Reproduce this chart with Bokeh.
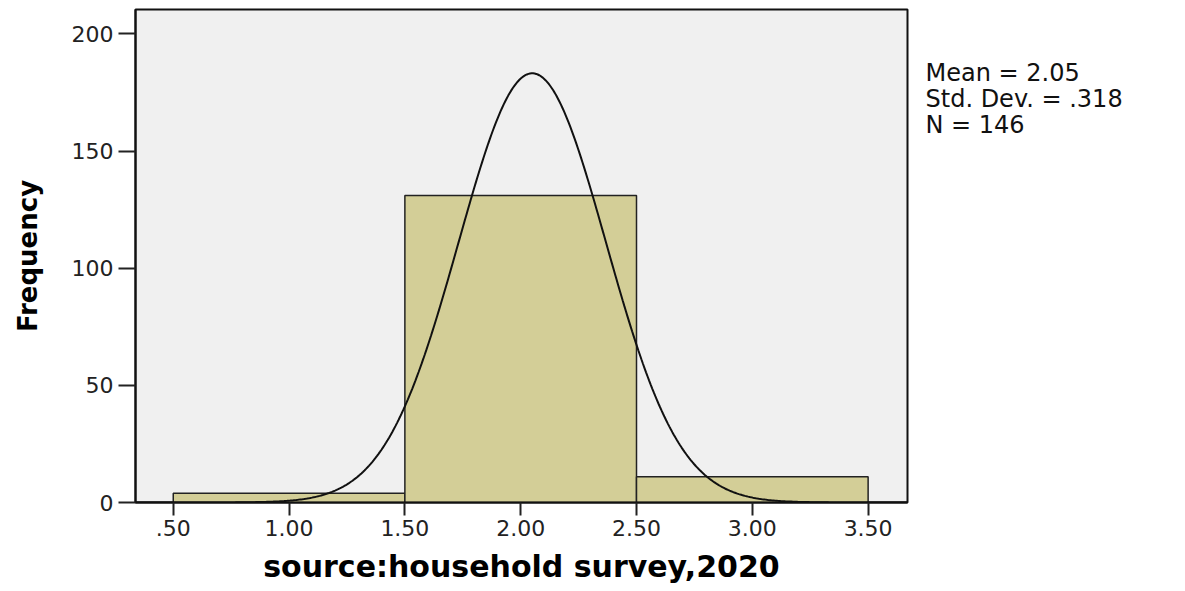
import numpy as np
from bokeh.plotting import figure
from bokeh.layouts import row
from bokeh.models import Range1d, FixedTicker
from bokeh.core.properties import value
from bokeh.embed import file_html
from bokeh.resources import INLINE

# ---- data ----
bin_edges = [0.5, 1.5, 2.5, 3.5]
frequencies = [4, 131, 11]
x_ticks = [0.5, 1.0, 1.5, 2.0, 2.5, 3.0, 3.5]
x_tick_labels = [".50", "1.00", "1.50", "2.00", "2.50", "3.00", "3.50"]
y_ticks = [0, 50, 100, 150, 200]
mean = 2.05
std_dev = 0.318
n_obs = 146
stats_lines = ["Mean = 2.05", "Std. Dev. = .318", "N = 146"]
x_title = "source:household survey,2020"
y_title = "Frequency"

X_START, X_END = 0.337, 3.67
Y_START, Y_END = 0, 210.4

p = figure(width=917, height=591,
           x_range=Range1d(X_START, X_END), y_range=Range1d(Y_START, Y_END),
           output_backend="svg", toolbar_location=None,
           min_border_left=135, min_border_right=10,
           min_border_top=9, min_border_bottom=89)

p.background_fill_color = "#F0F0F0"
p.border_fill_color = "white"
p.outline_line_color = "#111111"
p.outline_line_width = 2
p.xgrid.visible = False
p.ygrid.visible = False

# histogram bars
lefts = bin_edges[:-1]
rights = bin_edges[1:]
p.quad(left=lefts, right=rights, bottom=[0] * len(frequencies), top=frequencies,
       fill_color="#D3CE97", line_color="#222222", line_width=1.5)

# fitted normal curve from the stated statistics
bin_width = bin_edges[1] - bin_edges[0]
xs = np.linspace(X_START, X_END, 500)
ys = n_obs * bin_width * np.exp(-0.5 * ((xs - mean) / std_dev) ** 2) / (std_dev * np.sqrt(2 * np.pi))
p.line(xs, ys, line_color="#111111", line_width=2)

# axes
for ax in (p.xaxis[0], p.yaxis[0]):
    ax.axis_line_color = "#111111"
    ax.axis_line_width = 2
    ax.major_tick_line_color = "#222222"
    ax.major_tick_line_width = 2
    ax.major_tick_in = 0
    ax.minor_tick_line_color = None
    ax.major_label_text_font = "DejaVu Sans"
    ax.major_label_text_font_size = "22px"
    ax.major_label_text_color = "#222222"
    ax.axis_label_text_font = "DejaVu Sans"
    ax.axis_label_text_font_style = "bold"
    ax.axis_label_text_color = "#000000"

p.xaxis.ticker = FixedTicker(ticks=x_ticks)
p.xaxis.major_label_overrides = {t: s for t, s in zip(x_ticks, x_tick_labels)}
p.xaxis.major_tick_out = 13
p.xaxis.major_label_standoff = 4
p.xaxis.axis_label = x_title
p.xaxis.axis_label_text_font_size = "30px"
p.xaxis.axis_label_standoff = 10

p.yaxis.ticker = FixedTicker(ticks=y_ticks)
p.yaxis.major_tick_out = 17
p.yaxis.major_label_standoff = 5
p.yaxis.axis_label = y_title
p.yaxis.axis_label_text_font_size = "26px"
p.yaxis.axis_label_standoff = 26

# statistics block to the right of the chart (its own pixel-scaled panel)
SIDE_W, SIDE_H = 268, 591
side = figure(frame_width=SIDE_W, frame_height=SIDE_H,
              x_range=Range1d(0, SIDE_W), y_range=Range1d(SIDE_H, 0),
              x_axis_type=None, y_axis_type=None,
              output_backend="svg", toolbar_location=None,
              min_border=0, min_border_left=0, min_border_right=0,
              min_border_top=0, min_border_bottom=0)
side.title = None
side.grid.visible = False
side.outline_line_color = None
side.background_fill_color = "white"
side.border_fill_color = "white"
first_baseline = 63
line_step = 26
side.text(x=[8] * len(stats_lines),
          y=[first_baseline + line_step * i for i in range(len(stats_lines))],
          text=stats_lines, text_font=value("DejaVu Sans"), text_font_size="24px",
          text_color="#111111", text_baseline="alphabetic", text_align="left")

layout = row(p, side)
open("out.html", "w").write(file_html(layout, INLINE))
